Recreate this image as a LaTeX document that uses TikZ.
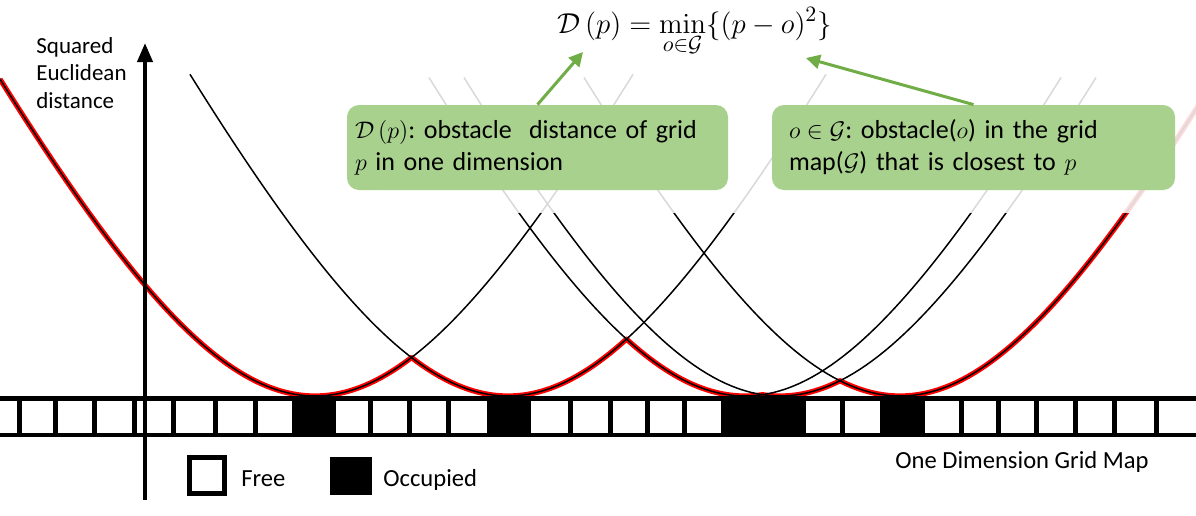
\documentclass[tikz,border=0pt]{standalone}
\usepackage[no-math]{fontspec}
\setmainfont{Carlito}
\usetikzlibrary{arrows.meta}
\definecolor{boxgreen}{HTML}{A9D18E}
\definecolor{arrgreen}{HTML}{70AD47}
\frenchspacing
\begin{document}
\begin{tikzpicture}[x=0.5pt,y=-0.5pt,
  declare function={f(\t)=198*(sqrt(5.29+(\t/100)*(\t/100))-2.3);},
  curve/.style={line width=0.75pt,black},
  env/.style={line width=2.6pt,red,line join=round},
  sepline/.style={line width=2.5pt,black},
  gbox/.style={fill=boxgreen,rounded corners=6pt,minimum height=42.5pt,align=left,
     font=\fontsize{13}{16}\selectfont,inner ysep=0pt,anchor=center},
  garrow/.style={draw=arrgreen,line width=1.5pt,-{Triangle[length=7pt,width=7pt]}},
  lbl/.style={font=\fontsize{12.3}{14}\selectfont,inner sep=0pt,anchor=base west},
  axlbl/.style={font=\fontsize{11.5}{13}\selectfont,inner sep=0pt,anchor=base west}]
\useasboundingbox (0,0) rectangle (1196,515);
\begin{scope}
\clip (0,0) rectangle (1196,515);
% lower envelope
\draw[env] plot[domain=-315:96.5,samples=70] ({315+\x},{396-f(\x)})
  -- plot[domain=-96.5:118.5,samples=40] ({508+\x},{396-f(\x)})
  -- plot[domain=-118.5:17.5,samples=30] ({745+\x},{396-f(\x)})
  -- plot[domain=-17.5:60,samples=20] ({780+\x},{396-f(\x)})
  -- plot[domain=-60:300,samples=60] ({900+\x},{396-f(\x)});
% individual distance curves
\draw[curve] plot[domain=-316:318,samples=100] ({315+\x},{396-f(\x)});
\draw[curve] plot[domain=-318:318,samples=100] ({508+\x},{396-f(\x)});
\draw[curve] plot[domain=-316:316,samples=100] ({745+\x},{396-f(\x)});
\draw[curve] plot[domain=-316:316,samples=100] ({780+\x},{396-f(\x)});
\draw[curve] plot[domain=-316:300,samples=100] ({900+\x},{396-f(\x)});
% fading
\fill[white,opacity=0.85] (380,60) rectangle (1196,213);
\end{scope}
% grid map
\draw[line width=2.5pt] (0,398.5) -- (1196,398.5);
\draw[line width=2pt] (0,435) -- (1196,435);
\foreach \b in {19.5,55.5,94.5,134,173,215,255.5,294,332,370.5,409.5,448.5,489,528,570.5,610,647.5,684.5,725,764,803,842.5,882,922,961.5,998,1036,1075.5,1114.5,1156.5}
  \draw[sepline] (\b,398.5) -- (\b,435);
\foreach \a/\b in {292/336,487/531,721/804,881/924}
  \fill (\a,398.5) rectangle (\b,435);
% axis
\draw[line width=2pt,-{Triangle[length=9.5pt,width=7.5pt]}] (145,500) -- (145,43);
\node[axlbl] (lab1) at (36,53) {Squared};
\node[axlbl] (lab2) at (36,80.5) {Euclidean};
\node[axlbl] (lab3) at (36,108) {distance};
% legend
\node[draw,line width=2.5pt,minimum width=17.5pt,minimum height=18pt,inner sep=0pt] (freebox) at (207,475.5) {};
\node[fill=black,minimum width=21pt,minimum height=19pt,inner sep=0pt] (occbox) at (351,476) {};
\node[lbl] (freelbl) at (241,486) {Free};
\node[lbl] (occlbl) at (383,486) {Occupied};
\node[lbl] (gridlbl) at (895,468) {One Dimension Grid Map};
% formula
\node[font=\fontsize{15.5}{18}\selectfont,inner sep=0pt,anchor=base west] (formula) at (557,33)
  {$\displaystyle \mathcal{D}\,(p) = \min_{o\in\mathcal{G}}\{(p-o)^2\}$};
% boxes
\node[gbox,minimum width=190.5pt,text width=182.5pt,inner xsep=4pt] (box1) at (537.5,147.5)
  {$\mathcal{D}\,(p)$: obstacle\ \ distance of grid\\ $p$ in one dimension};
\node[gbox,minimum width=201.5pt,text width=184.5pt,inner xsep=8.5pt] (box2) at (973.5,147.5)
  {$o\in\mathcal{G}$: obstacle($o$) in the grid\\ map($\mathcal{G}$) that is closest to $p$};
\coordinate (tip1) at (583,52);
\coordinate (tip2) at (806,58);
\draw[garrow] (box1.north) -- (tip1);
\draw[garrow] (box2.north) -- (tip2);
\end{tikzpicture}
\end{document}
